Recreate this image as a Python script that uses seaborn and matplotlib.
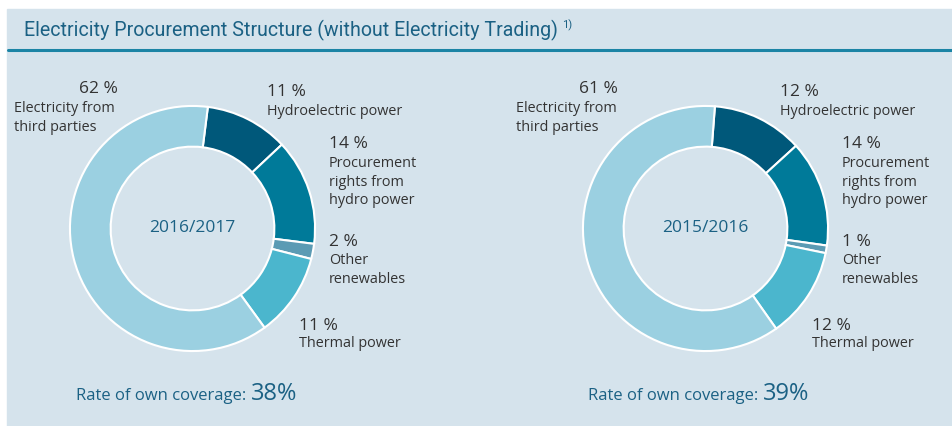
import matplotlib
matplotlib.use("Agg")
import matplotlib.pyplot as plt
from matplotlib.patches import Rectangle
from matplotlib.lines import Line2D
import seaborn as sns

# data
categories = ["Hydroelectric power", "Procurement\nrights from\nhydro power",
              "Other\nrenewables", "Thermal power", "Electricity from\nthird parties"]
share_1617 = [11, 14, 2, 11, 62]
share_1516 = [12, 14, 1, 12, 61]
years = ["2016/2017", "2015/2016"]
own_coverage = [38, 39]

colors = ["#00587a", "#007a99", "#5b9bb4", "#4bb6cd", "#9bd0e1"]
bg = "#d5e3ec"
teal = "#1b6184"
txt = "#333333"

W, H = 953, 426
sns.set_style("white")
plt.rcParams["font.family"] = ["Open Sans", "DejaVu Sans"]


def fx(x):
    return x / W


def fy(y):
    return 1 - y / H


fig = plt.figure(figsize=(W / 100, H / 100), dpi=100)
fig.patch.set_facecolor("white")
fig.add_artist(Rectangle((fx(7), 0), 1, fy(9), transform=fig.transFigure,
                         color=bg, zorder=0))
fig.add_artist(Line2D([fx(8), 1], [fy(50), fy(50)], color="#1b84a5", lw=2.2))

renderer = fig.canvas.get_renderer()
title = fig.text(fx(24), fy(30), "Electricity Procurement Structure (without Electricity Trading)",
                 family=["Roboto", "DejaVu Sans"], fontsize=14,
                 color=teal, va="center", ha="left")
# squeeze the title to the width it has in the reference
w0 = title.get_window_extent(renderer).width
title.set_fontsize(14 * 536 / w0)
bb = title.get_window_extent(renderer)
fig.text(bb.x1 / W + fx(4), fy(25), "1)", family=["Roboto", "DejaVu Sans"],
         fontsize=8, color=teal, va="center", ha="left")

R = 125
charts = [
    dict(cx=192.5, cy=228.5, vals=share_1617, start=82.8, third=(118, 88, 14, 108)),
    dict(cx=705.5, cy=228.5, vals=share_1516, start=85.6, third=(618, 88, 516, 108)),
]
# label offsets from donut centre: (pct x, pct y, first label line y)
offsets = [(74.5, -137.5, -117.5), (136.5, -85.5, -65.5), (136.5, 12.5, 31.5), (106.5, 95.5, 114.5)]

for i, ch in enumerate(charts):
    cx, cy = ch["cx"], ch["cy"]
    ax = fig.add_axes([fx(cx - R), fy(cy + R), 2 * R / W, 2 * R / H])
    ax.pie(ch["vals"], colors=colors, startangle=ch["start"], counterclock=False,
           radius=1, wedgeprops=dict(width=0.332, edgecolor="white", linewidth=1.5))
    ax.set_xlim(-1.02, 1.02)
    ax.set_ylim(-1.02, 1.02)
    ax.axis("off")
    ax.text(0, 0, years[i], ha="center", va="center", fontsize=12.5, color=teal)

    for k, (ox, oy, ly) in enumerate(offsets):
        fig.text(fx(cx + ox), fy(cy + oy + 1.5), f"{ch['vals'][k]} %", fontsize=12.5,
                 color=txt, va="center", ha="left")
        fig.text(fx(cx + ox), fy(cy + ly - 7), categories[k], fontsize=10.4, color=txt,
                 va="top", ha="left", linespacing=1.33)
    px, py, lx, ly = ch["third"]
    fig.text(fx(px), fy(py + 1), f"{ch['vals'][4]} %", fontsize=12.5, color=txt,
             va="center", ha="right")
    fig.text(fx(lx), fy(ly - 7), categories[4], fontsize=10.4, color=txt,
             va="top", ha="left", linespacing=1.33)

    bx = 76 + (cx - 192.5) - i
    t = fig.text(fx(bx), fy(396), "Rate of own coverage: ", fontsize=12, color=teal,
                 va="center", ha="left")
    b2 = t.get_window_extent(renderer)
    fig.text(b2.x1 / W, fy(394), f"{own_coverage[i]}%", fontsize=17, color=teal,
             va="center", ha="left")

fig.savefig("out.png", dpi=100, facecolor="white")
